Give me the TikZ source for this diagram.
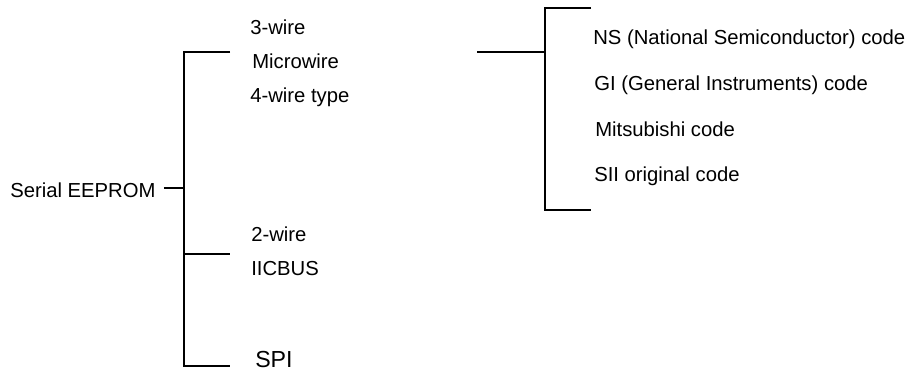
\documentclass[tikz,border=0pt]{standalone}
\usepackage{fontspec}
\setmainfont{Liberation Sans}
\usepackage{tikz}
\usetikzlibrary{positioning}

\begin{document}
\begin{tikzpicture}[x=0.75pt, y=-0.75pt,
    label/.style={anchor=base west, inner sep=0pt, font=\fontsize{15.2}{18}\selectfont},
    bigger/.style={anchor=base west, inner sep=0pt, font=\fontsize{17.4}{20}\selectfont},
    line/.style={draw, line width=1.5pt}]

    \useasboundingbox (0,0) rectangle (907,373);

    % Root
    \node[label, inner xsep=6pt] (root) at (2,198) {Serial EEPROM};

    % Bracket corners
    \coordinate (lt) at (184,52);
    \coordinate (lm) at (184,254);
    \coordinate (lb) at (184,366);
    \coordinate (lc) at (184,188);
    \coordinate (lte) at (230,52);
    \coordinate (lme) at (230,254);
    \coordinate (lbe) at (230,366);

    \coordinate (rt) at (545,8);
    \coordinate (rm) at (545,52);
    \coordinate (rb) at (545,210);
    \coordinate (rte) at (591,8);
    \coordinate (rbe) at (591,210);
    \coordinate (rs) at (477,52);

    % Labels
    \node[label] (three) at (250,35) {3-wire};
    \node[label] (micro) at (252,69) {Microwire};
    \node[label] (four) at (250,103) {4-wire type};
    \node[label] (two) at (251,242) {2-wire};
    \node[label] (iic) at (251,276) {IICBUS};
    \node[bigger] (spi) at (255,368) {SPI};

    \node[label] (ns) at (593,45) {NS (National Semiconductor) code};
    \node[label] (gi) at (594,91) {GI (General Instruments) code};
    \node[label] (mitsu) at (595,137) {Mitsubishi code};
    \node[label] (sii) at (594,182) {SII original code};

    % Lines
    \draw[line] (root.east |- lc) -- (lc);
    \draw[line] (lte) -- (lt) -- (lb) -- (lbe);
    \draw[line] (lm) -- (lme);
    \draw[line] (rte) -- (rt) -- (rb) -- (rbe);
    \draw[line] (rs) -- (rm);
\end{tikzpicture}
\end{document}
